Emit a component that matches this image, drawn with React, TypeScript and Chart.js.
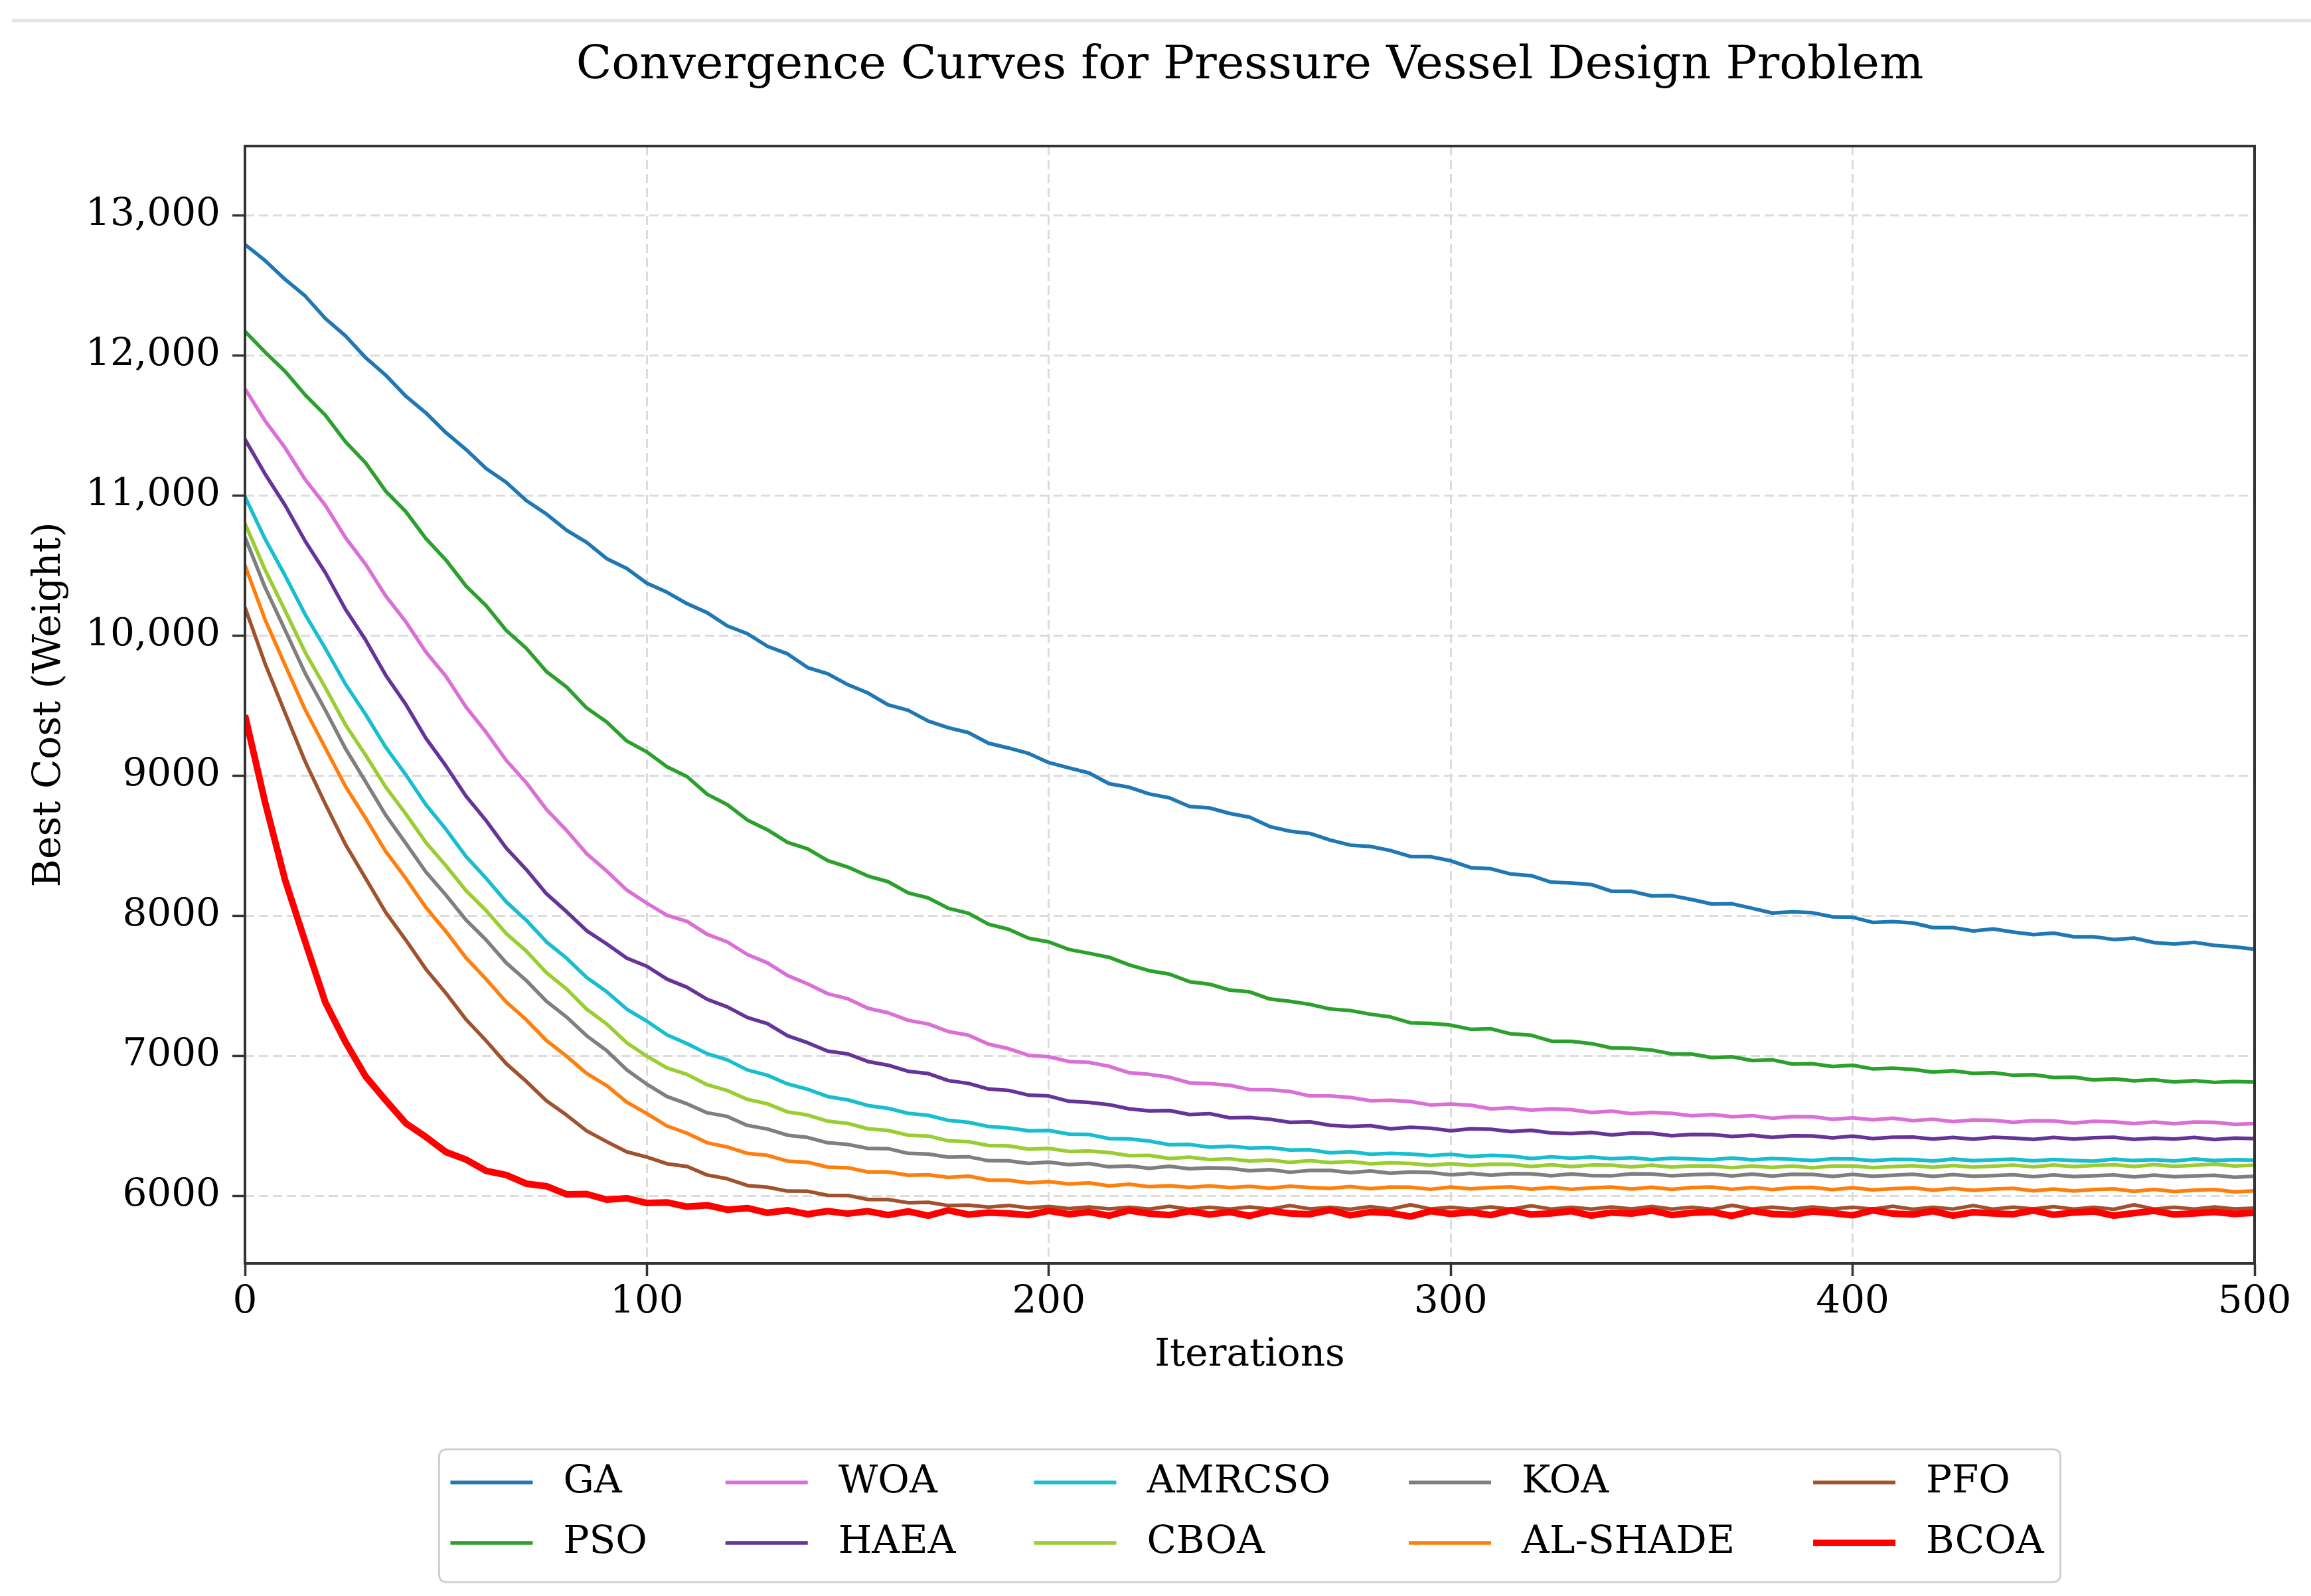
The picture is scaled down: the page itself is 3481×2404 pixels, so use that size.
import React, { useEffect, useRef } from 'react';
import { Chart, registerables } from 'chart.js';

Chart.register(...registerables);

// ---------------- data ----------------
const ITERATIONS = Array.from({ length: 101 }, (_, i) => i * 5);
const X_TICKS = [0, 100, 200, 300, 400, 500];
const Y_TICKS = [6000, 7000, 8000, 9000, 10000, 11000, 12000, 13000];

const GA = [
  12790, 12676, 12541, 12422, 12262, 12138, 11983, 11858, 11708, 11589,
  11447, 11327, 11191, 11093, 10962, 10866, 10751, 10664, 10548, 10478,
  10372, 10308, 10226, 10162, 10068, 10012, 9922, 9868, 9770, 9726,
  9648, 9589, 9504, 9465, 9388, 9341, 9306, 9230, 9196, 9157,
  9092, 9054, 9018, 8941, 8916, 8868, 8840, 8779, 8768, 8729,
  8702, 8635, 8602, 8586, 8539, 8503, 8493, 8464, 8421, 8420,
  8391, 8342, 8334, 8296, 8285, 8238, 8232, 8221, 8174, 8173,
  8140, 8142, 8114, 8082, 8084, 8052, 8018, 8026, 8020, 7991,
  7988, 7951, 7956, 7947, 7914, 7914, 7890, 7904, 7882, 7864,
  7875, 7849, 7849, 7829, 7839, 7807, 7797, 7809, 7787, 7776,
  7760,
];
const PSO = [
  12170, 12022, 11884, 11716, 11572, 11382, 11232, 11030, 10884, 10692,
  10538, 10352, 10212, 10036, 9908, 9742, 9632, 9482, 9382, 9246,
  9168, 9062, 8992, 8866, 8792, 8682, 8612, 8522, 8476, 8392,
  8346, 8282, 8242, 8162, 8126, 8052, 8016, 7938, 7902, 7838,
  7812, 7758, 7731, 7702, 7648, 7606, 7582, 7528, 7510, 7468,
  7455, 7404, 7388, 7366, 7333, 7322, 7296, 7276, 7234, 7230,
  7218, 7188, 7192, 7155, 7146, 7104, 7102, 7086, 7055, 7052,
  7040, 7012, 7011, 6986, 6992, 6965, 6970, 6940, 6942, 6922,
  6932, 6905, 6910, 6902, 6882, 6892, 6874, 6878, 6860, 6864,
  6844, 6846, 6826, 6834, 6820, 6828, 6812, 6822, 6809, 6816,
  6811,
];
const WOA = [
  11760, 11532, 11338, 11112, 10928, 10698, 10508, 10282, 10098, 9882,
  9708, 9488, 9308, 9108, 8948, 8758, 8608, 8442, 8318, 8182,
  8088, 8002, 7958, 7866, 7812, 7722, 7662, 7572, 7512, 7442,
  7406, 7338, 7306, 7252, 7226, 7172, 7146, 7082, 7050, 7002,
  6992, 6958, 6952, 6924, 6878, 6866, 6846, 6806, 6800, 6788,
  6758, 6756, 6744, 6712, 6712, 6702, 6678, 6682, 6672, 6648,
  6654, 6646, 6620, 6628, 6611, 6620, 6614, 6594, 6604, 6586,
  6595, 6588, 6570, 6580, 6564, 6572, 6553, 6566, 6564, 6545,
  6556, 6542, 6554, 6536, 6546, 6529, 6541, 6538, 6524, 6536,
  6534, 6519, 6531, 6528, 6515, 6527, 6513, 6526, 6524, 6510,
  6515,
];
const HAEA = [
  11400, 11152, 10928, 10672, 10448, 10186, 9968, 9716, 9508, 9266,
  9068, 8852, 8678, 8482, 8328, 8156, 8028, 7892, 7798, 7696,
  7638, 7546, 7488, 7402, 7348, 7272, 7228, 7142, 7092, 7032,
  7012, 6958, 6932, 6888, 6872, 6822, 6802, 6762, 6752, 6718,
  6712, 6674, 6666, 6650, 6620, 6606, 6608, 6580, 6586, 6556,
  6558, 6546, 6524, 6528, 6503, 6494, 6500, 6478, 6488, 6482,
  6464, 6478, 6474, 6458, 6467, 6448, 6444, 6452, 6434, 6447,
  6446, 6428, 6438, 6436, 6423, 6432, 6416, 6428, 6427, 6413,
  6426, 6408, 6418, 6419, 6404, 6416, 6403, 6417, 6412, 6402,
  6416, 6404, 6414, 6417, 6402, 6412, 6404, 6416, 6401, 6411,
  6408,
];
const AMRCSO = [
  10990, 10688, 10426, 10148, 9906, 9652, 9436, 9202, 9006, 8792,
  8616, 8422, 8266, 8098, 7966, 7812, 7696, 7558, 7456, 7332,
  7246, 7148, 7086, 7014, 6970, 6898, 6860, 6798, 6760, 6708,
  6684, 6644, 6624, 6588, 6574, 6538, 6524, 6494, 6484, 6464,
  6466, 6440, 6437, 6408, 6406, 6390, 6364, 6366, 6346, 6354,
  6340, 6344, 6326, 6328, 6306, 6314, 6297, 6302, 6298, 6286,
  6296, 6280, 6288, 6284, 6266, 6278, 6268, 6276, 6264, 6272,
  6258, 6268, 6262, 6257, 6269, 6256, 6266, 6260, 6252, 6264,
  6262, 6250, 6260, 6259, 6248, 6262, 6250, 6256, 6261, 6249,
  6259, 6252, 6247, 6261, 6251, 6258, 6248, 6262, 6252, 6257,
  6254,
];
const CBOA = [
  10800, 10468, 10176, 9878, 9626, 9362, 9146, 8918, 8726, 8522,
  8356, 8178, 8036, 7872, 7746, 7592, 7476, 7332, 7226, 7092,
  6996, 6912, 6866, 6792, 6751, 6688, 6656, 6598, 6576, 6532,
  6516, 6478, 6466, 6432, 6426, 6392, 6386, 6358, 6356, 6332,
  6338, 6316, 6319, 6308, 6286, 6288, 6266, 6275, 6258, 6264,
  6247, 6255, 6238, 6250, 6236, 6244, 6228, 6235, 6230, 6217,
  6229, 6216, 6226, 6224, 6209, 6221, 6208, 6219, 6218, 6205,
  6218, 6204, 6214, 6213, 6200, 6212, 6202, 6213, 6199, 6212,
  6213, 6201, 6208, 6215, 6203, 6216, 6204, 6211, 6219, 6206,
  6220, 6208, 6216, 6221, 6209, 6222, 6210, 6217, 6226, 6212,
  6219,
];
const KOA = [
  10700, 10343, 10036, 9728, 9466, 9192, 8956, 8718, 8516, 8312,
  8146, 7968, 7826, 7662, 7536, 7388, 7276, 7142, 7036, 6898,
  6796, 6708, 6656, 6592, 6566, 6502, 6476, 6432, 6416, 6378,
  6366, 6338, 6336, 6302, 6298, 6275, 6278, 6250, 6249, 6230,
  6240, 6222, 6230, 6206, 6212, 6196, 6210, 6192, 6200, 6196,
  6178, 6186, 6168, 6180, 6180, 6165, 6177, 6160, 6170, 6166,
  6149, 6160, 6146, 6158, 6157, 6143, 6156, 6144, 6142, 6157,
  6156, 6142, 6150, 6155, 6141, 6154, 6140, 6153, 6152, 6138,
  6152, 6139, 6146, 6153, 6138, 6151, 6139, 6144, 6150, 6136,
  6149, 6137, 6143, 6148, 6134, 6147, 6135, 6141, 6146, 6132,
  6139,
];
const AL_SHADE = [
  10500, 10112, 9786, 9468, 9196, 8922, 8696, 8458, 8266, 8058,
  7886, 7698, 7546, 7383, 7256, 7108, 6996, 6873, 6786, 6668,
  6586, 6498, 6446, 6378, 6348, 6302, 6288, 6247, 6239, 6204,
  6200, 6170, 6170, 6146, 6150, 6131, 6140, 6112, 6111, 6092,
  6101, 6084, 6092, 6070, 6082, 6064, 6072, 6060, 6070, 6058,
  6067, 6054, 6068, 6058, 6052, 6066, 6050, 6062, 6061, 6046,
  6062, 6049, 6058, 6063, 6047, 6060, 6046, 6056, 6062, 6048,
  6061, 6045, 6058, 6062, 6046, 6059, 6044, 6057, 6060, 6043,
  6057, 6042, 6050, 6056, 6040, 6053, 6038, 6048, 6053, 6035,
  6048, 6034, 6044, 6049, 6031, 6045, 6030, 6040, 6044, 6028,
  6035,
];
const PFO = [
  10200, 9798, 9446, 9098, 8796, 8508, 8266, 8023, 7826, 7618,
  7446, 7258, 7106, 6943, 6816, 6678, 6576, 6463, 6386, 6313,
  6276, 6228, 6209, 6148, 6121, 6073, 6061, 6033, 6032, 6003,
  6002, 5973, 5973, 5950, 5953, 5930, 5933, 5919, 5931, 5913,
  5923, 5908, 5920, 5906, 5918, 5905, 5925, 5903, 5918, 5905,
  5920, 5904, 5930, 5906, 5918, 5903, 5922, 5905, 5935, 5906,
  5918, 5904, 5920, 5903, 5928, 5905, 5917, 5904, 5920, 5906,
  5924, 5904, 5918, 5903, 5932, 5905, 5919, 5904, 5920, 5906,
  5918, 5904, 5925, 5903, 5917, 5905, 5930, 5904, 5919, 5906,
  5922, 5904, 5918, 5903, 5935, 5905, 5918, 5904, 5920, 5906,
  5912,
];
const BCOA = [
  9430, 8808, 8252, 7812, 7380, 7098, 6852, 6682, 6518, 6420,
  6312, 6258, 6178, 6148, 6086, 6068, 6010, 6012, 5972, 5982,
  5948, 5952, 5922, 5932, 5900, 5912, 5878, 5896, 5868, 5890,
  5872, 5890, 5862, 5888, 5858, 5896, 5866, 5880, 5874, 5862,
  5892, 5868, 5884, 5858, 5895, 5872, 5862, 5890, 5866, 5884,
  5856, 5892, 5874, 5868, 5898, 5860, 5884, 5876, 5852, 5890,
  5870, 5882, 5862, 5896, 5866, 5874, 5890, 5858, 5880, 5872,
  5894, 5862, 5878, 5884, 5856, 5892, 5870, 5864, 5888, 5876,
  5860, 5896, 5872, 5866, 5890, 5858, 5882, 5874, 5868, 5894,
  5864, 5880, 5888, 5858, 5876, 5892, 5866, 5874, 5884, 5870,
  5878,
];

const SERIES_NAMES = ['GA', 'PSO', 'WOA', 'HAEA', 'AMRCSO', 'CBOA', 'KOA', 'AL-SHADE', 'PFO', 'BCOA'];
const SERIES_VALUES = [GA, PSO, WOA, HAEA, AMRCSO, CBOA, KOA, AL_SHADE, PFO, BCOA];
const SERIES_COLORS = ['#1f77b4', '#2ca02c', '#da70d6', '#663399', '#17becf', '#9acd32', '#7f7f7f', '#ff7f0e', '#a0522d', '#ff0000'];
const SERIES_WIDTHS = [5.5, 5.5, 5.5, 5.5, 5.5, 5.5, 5.5, 5.5, 5.5, 10];

const TITLE = 'Convergence Curves for Pressure Vessel Design Problem';
const X_LABEL = 'Iterations';
const Y_LABEL = 'Best Cost (Weight)';

// ---------------- layout constants ----------------
const W = 3481;
const H = 2404;
const FONT = "'DejaVu Serif', serif";
const FS = 58;

const decorPlugin = {
  id: 'decor',
  beforeDraw(chart: any) {
    const ctx = chart.ctx;
    ctx.save();
    ctx.fillStyle = '#ffffff';
    ctx.fillRect(0, 0, chart.width, chart.height);
    ctx.strokeStyle = '#e4e4e4';
    ctx.lineWidth = 5;
    ctx.beginPath();
    ctx.moveTo(18, 31);
    ctx.lineTo(chart.width, 31);
    ctx.stroke();
    ctx.restore();
  },
  afterDatasetsDraw(chart: any) {
    const { ctx, chartArea } = chart;
    ctx.save();
    ctx.strokeStyle = '#333333';
    ctx.lineWidth = 4;
    ctx.strokeRect(chartArea.left, chartArea.top, chartArea.right - chartArea.left, chartArea.bottom - chartArea.top);
    ctx.restore();
  },
  afterDraw(chart: any) {
    const { ctx, chartArea } = chart;
    const ds = chart.data.datasets;
    ctx.save();
    ctx.font = `${FS}px ${FONT}`;
    const handleLen = 124;
    const textPad = 46;
    const colSpacing = 118;
    const padLeft = 17;
    const padRight = 25;
    const cols: number[][] = [];
    for (let i = 0; i < ds.length; i += 2) cols.push([i, i + 1].filter((k) => k < ds.length));
    const colW = cols.map((c) => handleLen + textPad + Math.max(...c.map((k) => ctx.measureText(ds[k].label).width)));
    const total = padLeft + colW.reduce((a, b) => a + b, 0) + colSpacing * (cols.length - 1) + padRight;
    const cx = (chartArea.left + chartArea.right) / 2;
    const boxL = cx - total / 2;
    const boxT = 2183;
    const boxB = 2383;
    const rows = [2233, 2324];
    const r = 12;
    ctx.beginPath();
    ctx.moveTo(boxL + r, boxT);
    ctx.lineTo(boxL + total - r, boxT);
    ctx.quadraticCurveTo(boxL + total, boxT, boxL + total, boxT + r);
    ctx.lineTo(boxL + total, boxB - r);
    ctx.quadraticCurveTo(boxL + total, boxB, boxL + total - r, boxB);
    ctx.lineTo(boxL + r, boxB);
    ctx.quadraticCurveTo(boxL, boxB, boxL, boxB - r);
    ctx.lineTo(boxL, boxT + r);
    ctx.quadraticCurveTo(boxL, boxT, boxL + r, boxT);
    ctx.closePath();
    ctx.fillStyle = 'rgba(255,255,255,0.85)';
    ctx.fill();
    ctx.strokeStyle = '#d0d0d0';
    ctx.lineWidth = 3;
    ctx.stroke();
    let x = boxL + padLeft;
    cols.forEach((c, ci) => {
      c.forEach((k, ri) => {
        const y = rows[ri];
        ctx.strokeStyle = ds[k].borderColor;
        ctx.lineWidth = ds[k].borderWidth;
        ctx.lineCap = 'butt';
        ctx.beginPath();
        ctx.moveTo(x, y);
        ctx.lineTo(x + handleLen, y);
        ctx.stroke();
        ctx.fillStyle = '#000000';
        ctx.textAlign = 'left';
        ctx.textBaseline = 'middle';
        ctx.fillText(ds[k].label, x + handleLen + textPad, y);
      });
      x += colW[ci] + colSpacing;
    });
    ctx.restore();
  },
};

export default function App() {
  const canvasRef = useRef<HTMLCanvasElement | null>(null);

  useEffect(() => {
    document.body.style.margin = '0';
    const canvas = canvasRef.current;
    if (!canvas) return;
    Chart.defaults.font.family = FONT;
    const n = SERIES_NAMES.length;
    const datasets = SERIES_NAMES.map((name, i) => ({
      label: name,
      data: ITERATIONS.map((it, j) => ({ x: it, y: SERIES_VALUES[i][j] })),
      borderColor: SERIES_COLORS[i],
      backgroundColor: SERIES_COLORS[i],
      borderWidth: SERIES_WIDTHS[i],
      pointRadius: 0,
      tension: 0,
      fill: false,
      borderJoinStyle: 'round' as const,
      order: n - 1 - i,
    }));

    const chart = new Chart(canvas, {
      type: 'line',
      data: { datasets },
      plugins: [decorPlugin],
      options: {
        animation: false,
        responsive: false,
        devicePixelRatio: 1,
        layout: { padding: { left: 0, right: 85, top: 0, bottom: 321 } },
        plugins: {
          legend: { display: false },
          tooltip: { enabled: false },
          title: {
            display: true,
            text: TITLE,
            fullSize: false,
            color: '#000000',
            font: { size: 70, family: FONT, weight: 'normal' },
            padding: { top: 58, bottom: 78 },
          },
        },
        scales: {
          x: {
            type: 'linear',
            min: 0,
            max: 500,
            afterFit: (scale: any) => {
              scale.height = 180;
            },
            afterBuildTicks: (scale: any) => {
              scale.ticks = X_TICKS.map((v) => ({ value: v }));
            },
            ticks: {
              color: '#000000',
              font: { size: FS, family: FONT },
              padding: 5,
              maxRotation: 0,
              autoSkip: false,
              callback: (v: any) => String(v),
            },
            grid: {
              color: '#dcdcdc',
              lineWidth: 3,
              tickLength: 19,
              tickColor: '#333333',
              tickWidth: 3.5,
              tickBorderDash: [1, 0],
            },
            border: { display: false, dash: [14, 7] },
            title: {
              display: true,
              text: X_LABEL,
              color: '#000000',
              font: { size: FS, family: FONT },
              padding: { top: 0, bottom: 6 },
            },
          },
          y: {
            type: 'linear',
            min: 5517,
            max: 13493,
            afterFit: (scale: any) => {
              scale.width = 369;
            },
            afterBuildTicks: (scale: any) => {
              scale.ticks = Y_TICKS.map((v) => ({ value: v }));
            },
            ticks: {
              color: '#000000',
              font: { size: FS, family: FONT },
              padding: 18,
              autoSkip: false,
              callback: (v: any) => (Number(v) >= 10000 ? Number(v).toLocaleString('en-US') : String(v)),
            },
            grid: {
              color: '#dcdcdc',
              lineWidth: 3,
              tickLength: 19,
              tickColor: '#333333',
              tickWidth: 3.5,
              tickBorderDash: [1, 0],
            },
            border: { display: false, dash: [14, 7] },
            title: {
              display: true,
              text: Y_LABEL,
              color: '#000000',
              font: { size: FS, family: FONT },
              padding: { top: 40, bottom: 0 },
            },
          },
        },
      },
    } as any);

    return () => {
      chart.destroy();
    };
  }, []);

  return (
    <div style={{ width: W, height: H, background: '#ffffff' }}>
      <canvas ref={canvasRef} width={W} height={H} style={{ width: W, height: H, display: 'block' }} />
    </div>
  );
}
